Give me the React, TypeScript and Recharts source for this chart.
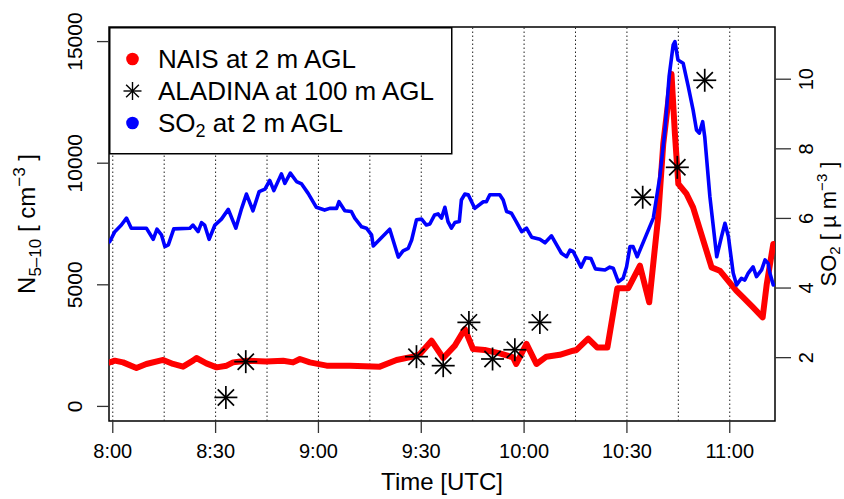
import React from 'react';
import { ComposedChart, Line, Scatter, XAxis, YAxis, ReferenceLine, ReferenceArea, Legend } from 'recharts';

const FONT = '"Liberation Sans", Arial, Helvetica, sans-serif';

// time in minutes after 8:00 UTC
const TIME_TICKS = [0, 30, 60, 90, 120, 150, 180];
const TIME_LABELS = ['8:00', '8:30', '9:00', '9:30', '10:00', '10:30', '11:00'];
const GRID_TIMES = [0, 15, 30, 45, 60, 75, 90, 105, 120, 135, 150, 165, 180];
const N_TICKS = [0, 5000, 10000, 15000];
const SO2_TICKS = [2, 4, 6, 8, 10];

// NAIS at 2 m AGL, N5-10 [cm^-3]
const naisTime = [-0.9, 0.6, 3.0, 6.9, 9.8, 14.7, 17.6, 20.5, 23.4, 24.4, 27.3, 30.3, 33.2, 35.1, 39.0, 44.8, 49.7, 52.6, 54.6, 57.5, 62.4, 69.2, 77.9, 82.8, 87.6, 89.6, 93.0, 96.4, 99.8, 102.7, 105.1, 108.5, 112.9, 116.8, 117.7, 120.7, 123.6, 126.5, 130.4, 134.3, 135.3, 138.7, 141.3, 144.3, 147.2, 150.4, 153.8, 156.5, 159.1, 160.6, 163.0, 164.0, 165.0, 167.4, 169.3, 174.7, 177.1, 181.9, 183.9, 186.8, 189.6, 190.8, 192.7];
const naisConc = [1810, 1880, 1810, 1580, 1745, 1910, 1745, 1635, 1880, 1990, 1770, 1605, 1675, 1810, 1880, 1850, 1880, 1810, 1950, 1810, 1675, 1675, 1635, 1910, 2045, 2155, 2700, 1990, 2500, 3180, 2360, 2320, 2180, 2015, 1745, 2570, 1745, 2045, 2120, 2290, 2320, 2790, 2427, 2427, 4860, 4860, 5787, 4280, 7774, 10793, 13672, 11204, 9147, 8736, 8185, 5717, 5581, 4759, 4483, 4072, 3661, 5034, 6680];

// SO2 at 2 m AGL
const so2Time = [-0.9, 0.6, 2.5, 4.0, 5.4, 9.8, 11.8, 12.9, 14.2, 15.2, 16.2, 17.8, 22.5, 23.4, 24.9, 25.9, 26.8, 28.1, 29.8, 31.7, 33.7, 35.9, 37.6, 39.0, 40.9, 42.7, 44.4, 45.8, 47.0, 49.2, 50.2, 51.8, 53.6, 55.1, 57.0, 59.4, 61.8, 63.3, 65.3, 66.0, 67.7, 69.6, 70.6, 72.6, 74.0, 75.5, 76.0, 80.8, 83.3, 84.7, 86.2, 87.2, 88.6, 90.1, 91.5, 92.5, 93.9, 94.9, 95.9, 96.9, 97.8, 98.8, 99.8, 101.1, 101.7, 102.7, 103.7, 105.6, 108.1, 109.0, 110.0, 112.9, 113.9, 114.9, 116.3, 117.7, 119.3, 120.7, 122.2, 124.6, 126.1, 128.0, 129.5, 130.9, 132.4, 133.4, 134.3, 135.3, 136.6, 137.9, 139.5, 140.8, 143.6, 145.0, 146.0, 147.5, 148.9, 149.9, 150.9, 151.8, 153.0, 157.7, 159.6, 161.1, 162.3, 163.5, 164.0, 164.9, 166.4, 167.9, 169.3, 170.3, 171.1, 172.1, 172.7, 174.2, 176.2, 177.6, 178.6, 179.6, 181.0, 182.0, 183.4, 184.4, 185.4, 186.8, 187.8, 189.3, 190.3, 191.2, 191.7, 192.7];
const so2Conc = [5.33, 5.62, 5.81, 6.01, 5.72, 5.72, 5.40, 5.69, 5.53, 5.19, 5.24, 5.70, 5.72, 5.81, 5.62, 5.88, 5.81, 5.40, 5.81, 5.98, 6.26, 5.72, 6.29, 6.70, 6.22, 6.77, 6.84, 7.09, 6.80, 7.28, 7.01, 7.30, 7.06, 6.99, 6.72, 6.32, 6.24, 6.29, 6.29, 6.48, 6.22, 6.20, 6.01, 5.76, 5.72, 5.53, 5.21, 5.69, 4.89, 5.07, 5.14, 5.38, 5.96, 5.98, 5.81, 5.84, 6.10, 6.13, 6.01, 6.32, 5.91, 5.72, 5.88, 5.91, 6.53, 6.70, 6.68, 6.29, 6.48, 6.48, 6.68, 6.68, 6.53, 6.20, 6.15, 5.91, 5.62, 5.72, 5.46, 5.40, 5.30, 5.50, 5.24, 5.00, 4.90, 5.09, 5.05, 4.86, 4.60, 4.87, 4.85, 4.55, 4.52, 4.60, 4.57, 4.18, 4.28, 4.61, 5.19, 5.19, 4.90, 6.01, 7.20, 8.54, 10.07, 10.99, 11.08, 10.55, 10.46, 9.79, 9.12, 8.54, 8.45, 8.78, 8.35, 6.63, 4.90, 5.48, 5.86, 5.48, 4.43, 4.09, 4.28, 4.23, 4.43, 4.61, 4.33, 4.52, 4.81, 4.71, 4.43, 4.09];

// ALADINA at 100 m AGL
const aladinaTime = [33.0, 38.8, 88.6, 96.4, 103.9, 110.8, 117.3, 124.6, 154.6, 164.7, 172.7];
const aladinaConc = [370, 1840, 2045, 1675, 3455, 1950, 2330, 3455, 8600, 9830, 13410];

const naisData = naisTime.map((t, i) => ({ t, n: naisConc[i] }));
const so2Data = so2Time.map((t, i) => ({ t, so2: so2Conc[i] }));
const aladinaData = aladinaTime.map((t, i) => ({ t, n: aladinaConc[i] }));

const Asterisk = ({ cx, cy, r = 11.5, sw = 1.7 }: any) => {
  const d = r / Math.SQRT2;
  return (
    <g stroke="#000" strokeWidth={sw} strokeLinecap="butt">
      <line x1={cx - r} y1={cy} x2={cx + r} y2={cy} />
      <line x1={cx} y1={cy - r} x2={cx} y2={cy + r} />
      <line x1={cx - d} y1={cy - d} x2={cx + d} y2={cy + d} />
      <line x1={cx - d} y1={cy + d} x2={cx + d} y2={cy - d} />
    </g>
  );
};

const LeftTick = ({ y, payload }: any) => (
  <text x={82} y={y} transform={`rotate(-90 82 ${y})`} textAnchor="middle" fontSize={21} fontFamily={FONT} fill="#000">
    {payload.value}
  </text>
);

const RightTick = ({ y, payload }: any) => (
  <text x={813} y={y} transform={`rotate(-90 813 ${y})`} textAnchor="middle" fontSize={20} fontFamily={FONT} fill="#000">
    {payload.value}
  </text>
);

const XTick = ({ x, payload }: any) => (
  <text x={x} y={458} textAnchor="middle" fontSize={20} fontFamily={FONT} fill="#000">
    {TIME_LABELS[TIME_TICKS.indexOf(payload.value)]}
  </text>
);

const XTitle = () => (
  <text x={442} y={490} textAnchor="middle" fontSize={24} fontFamily={FONT} fill="#000">Time [UTC]</text>
);

const LeftTitle = () => (
  <text transform="translate(35 224) rotate(-90)" x={0} y={0} textAnchor="middle" fontSize={24} fontFamily={FONT} fill="#000">
    N<tspan fontSize={17} dy={6}>5–10</tspan><tspan dy={-6}> [ cm</tspan><tspan fontSize={17} dy={-10}>−3</tspan><tspan dy={10}> ]</tspan>
  </text>
);

const RightTitle = () => (
  <text transform="translate(836 224) rotate(-90)" x={0} y={0} textAnchor="middle" fontSize={22} fontFamily={FONT} fill="#000">
    SO<tspan fontSize={15} dy={4}>2</tspan><tspan dy={-4}> [ µ m</tspan><tspan fontSize={15} dy={-9}>−3</tspan><tspan dy={9}> ]</tspan>
  </text>
);

const LegendBox = () => (
  <svg width={344} height={128} style={{ display: 'block' }}>
    <rect x={0.75} y={0.75} width={342} height={126} fill="#fff" stroke="#000" strokeWidth={1.5} />
    <circle cx={23.5} cy={32} r={6.3} fill="#ff0000" />
    <Asterisk cx={23.5} cy={64} r={9} sw={1.4} />
    <circle cx={23.5} cy={96} r={6.3} fill="#0000ff" />
    <g fontFamily={FONT} fontSize={26} fill="#000">
      <text x={49} y={41}>NAIS at 2 m AGL</text>
      <text x={49} y={73}>ALADINA at 100 m AGL</text>
      <text x={49} y={105}>SO<tspan fontSize={18} dy={5}>2</tspan><tspan dy={-5}> at 2 m AGL</tspan></text>
    </g>
  </svg>
);

export default function App() {
  return (
    <div style={{ position: 'absolute', left: 0, top: 0, width: 844, height: 499, background: '#fff' }}>
      <ComposedChart width={844} height={499} margin={{ top: 27, right: 0, bottom: 0, left: 0 }}>
        <XAxis dataKey="t" type="number" domain={[-1.1, 193.2]} ticks={TIME_TICKS} interval={0} allowDataOverflow
          height={78} tickSize={12} axisLine={false} tickLine={{ stroke: '#333', strokeWidth: 1.3 }} tick={<XTick />}
          label={<XTitle />} />
        <YAxis yAxisId="left" type="number" domain={[-600, 15600]} ticks={N_TICKS} interval={0} allowDataOverflow
          width={109} tickSize={12} axisLine={false} tickLine={{ stroke: '#333', strokeWidth: 1.3 }} tick={<LeftTick />}
          label={<LeftTitle />} />
        <YAxis yAxisId="right" orientation="right" type="number" domain={[0.18, 11.5]} ticks={SO2_TICKS} interval={0} allowDataOverflow
          width={69} tickSize={16} axisLine={false} tickLine={{ stroke: '#333', strokeWidth: 1.3 }} tick={<RightTick />}
          label={<RightTitle />} />
        {GRID_TIMES.map((g) => (
          <ReferenceLine key={g} x={g} yAxisId="left" stroke="#222" strokeWidth={1} strokeDasharray="1.5 2.5" />
        ))}
        <Line yAxisId="left" data={naisData} dataKey="n" type="linear" stroke="#ff0000" strokeWidth={6}
          strokeLinejoin="round" strokeLinecap="round" dot={false} activeDot={false} isAnimationActive={false} />
        <Line yAxisId="right" data={so2Data} dataKey="so2" type="linear" stroke="#0000ff" strokeWidth={3.6}
          strokeLinejoin="round" strokeLinecap="round" dot={false} activeDot={false} isAnimationActive={false} />
        <Scatter yAxisId="left" data={aladinaData} dataKey="n" shape={<Asterisk />} isAnimationActive={false} />
        <ReferenceArea yAxisId="left" x1={-1.1} x2={193.2} y1={-600} y2={15600} fill="none" fillOpacity={0}
          stroke="#000" strokeWidth={1.5} />
        <Legend layout="vertical" align="center" verticalAlign="middle" content={<LegendBox />}
          wrapperStyle={{ left: 109, top: 27, width: 344, height: 128 }} />
      </ComposedChart>
    </div>
  );
}
